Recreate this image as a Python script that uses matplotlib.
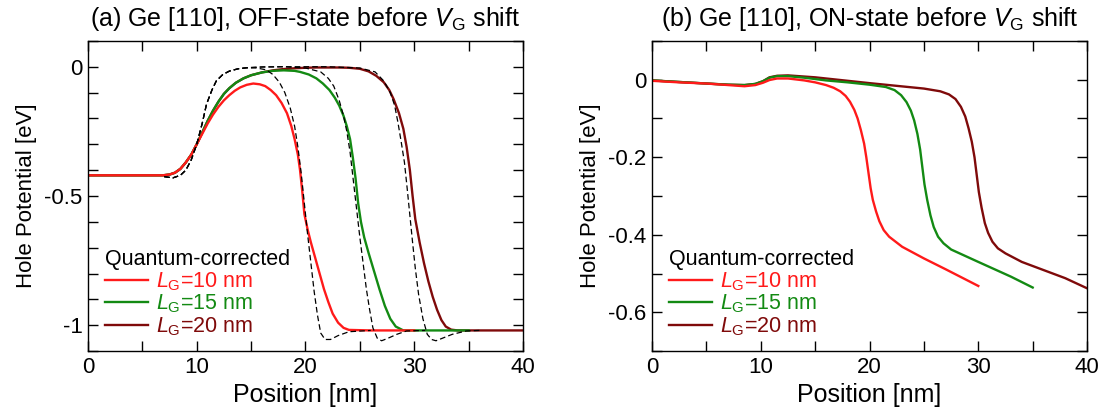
import numpy as np
import matplotlib
matplotlib.use('Agg')
import matplotlib.pyplot as plt
from matplotlib.ticker import MultipleLocator

plt.rcParams['font.family'] = ['Liberation Sans', 'DejaVu Sans']
plt.rcParams['mathtext.fontset'] = 'custom'
plt.rcParams['mathtext.rm'] = 'Liberation Sans'
plt.rcParams['mathtext.it'] = 'Liberation Sans:italic'

# (a) OFF-state, quantum-corrected
off10_x = [0, 6.9, 7.5, 8.0, 8.5, 9.0, 9.5, 10, 10.5, 11, 11.5, 12, 12.5, 13, 13.5, 14, 14.6, 15.2, 15.8, 16.3, 16.8, 17.3, 17.8, 18.3, 18.7, 19.0, 19.3, 19.5, 19.7, 19.9, 20.2, 20.5, 20.9, 21.3, 21.7, 22.1, 22.5, 23.0, 23.5, 24.0, 26, 30]
off10_y = [-0.42, -0.42, -0.417, -0.41, -0.395, -0.37, -0.34, -0.30, -0.26, -0.22, -0.185, -0.155, -0.13, -0.11, -0.093, -0.08, -0.07, -0.065, -0.068, -0.075, -0.09, -0.11, -0.14, -0.18, -0.23, -0.28, -0.34, -0.40, -0.48, -0.57, -0.63, -0.68, -0.74, -0.80, -0.86, -0.91, -0.955, -0.99, -1.01, -1.018, -1.02, -1.02]
off15_x = [0, 6.9, 7.5, 8.0, 8.5, 9.0, 9.5, 10, 10.5, 11, 11.5, 12, 12.5, 13, 13.6, 14.3, 15, 16, 17, 18, 19, 19.5, 20.3, 21.0, 21.6, 22.2, 22.7, 23.1, 23.5, 23.8, 24.1, 24.35, 24.6, 24.85, 25.1, 25.4, 25.8, 26.3, 26.8, 27.3, 27.8, 28.3, 29, 35]
off15_y = [-0.42, -0.42, -0.417, -0.41, -0.395, -0.37, -0.34, -0.30, -0.255, -0.21, -0.17, -0.135, -0.105, -0.083, -0.062, -0.045, -0.033, -0.022, -0.016, -0.014, -0.016, -0.02, -0.03, -0.045, -0.065, -0.09, -0.12, -0.15, -0.19, -0.23, -0.28, -0.35, -0.43, -0.53, -0.60, -0.66, -0.72, -0.79, -0.86, -0.925, -0.975, -1.005, -1.02, -1.02]
off20_x = [0, 6.9, 7.5, 8.0, 8.5, 9.0, 9.5, 10, 10.5, 11, 11.5, 12, 12.5, 13, 13.6, 14.3, 15, 16, 17, 18, 19, 20, 21, 22, 23, 24, 25, 25.8, 26.5, 27.2, 27.7, 28.1, 28.6, 29.0, 29.3, 29.6, 29.85, 30.1, 30.5, 30.9, 31.3, 31.7, 32.1, 32.5, 32.9, 33.4, 34, 40]
off20_y = [-0.42, -0.42, -0.417, -0.41, -0.395, -0.37, -0.34, -0.30, -0.255, -0.21, -0.17, -0.135, -0.105, -0.083, -0.062, -0.045, -0.033, -0.022, -0.014, -0.009, -0.006, -0.004, -0.003, -0.003, -0.003, -0.004, -0.008, -0.018, -0.035, -0.06, -0.09, -0.125, -0.18, -0.24, -0.31, -0.40, -0.50, -0.59, -0.68, -0.76, -0.83, -0.89, -0.94, -0.98, -1.005, -1.017, -1.02, -1.02]

# (a) OFF-state, classical (dashed)
cl10_x = [7, 7.8, 8.5, 9, 9.5, 10, 10.5, 10.9, 11.4, 11.8, 12.4, 13, 13.8, 14.6, 15.5, 16.4, 17.0, 17.6, 18.1, 18.6, 19.0, 19.3, 19.6, 19.9, 20.2, 20.5, 20.8, 21.1, 21.4, 21.8, 22.3, 23, 24.0, 26]
cl10_y = [-0.425, -0.43, -0.42, -0.40, -0.36, -0.30, -0.22, -0.145, -0.09, -0.055, -0.03, -0.017, -0.008, -0.004, -0.005, -0.012, -0.03, -0.06, -0.10, -0.16, -0.23, -0.31, -0.41, -0.53, -0.65, -0.76, -0.87, -0.96, -1.03, -1.055, -1.055, -1.04, -1.025, -1.02]
cl15_x = [7, 7.8, 8.5, 9, 9.5, 10, 10.5, 10.9, 11.4, 11.8, 12.4, 13, 13.8, 14.6, 16, 18, 20, 21.4, 22.1, 22.6, 23.1, 23.5, 23.8, 24.1, 24.4, 24.7, 25.0, 25.3, 25.6, 25.9, 26.2, 26.6, 27.0, 27.6, 28.4, 29.3, 31]
cl15_y = [-0.425, -0.43, -0.42, -0.40, -0.36, -0.30, -0.22, -0.145, -0.09, -0.055, -0.03, -0.017, -0.008, -0.004, -0.001, 0.0, -0.005, -0.02, -0.045, -0.075, -0.13, -0.19, -0.25, -0.33, -0.44, -0.55, -0.66, -0.76, -0.86, -0.94, -1.01, -1.05, -1.06, -1.05, -1.035, -1.022, -1.02]
cl20_x = [7, 7.8, 8.5, 9, 9.5, 10, 10.5, 10.9, 11.4, 11.8, 12.4, 13, 13.8, 14.6, 16, 18, 22, 25, 26.4, 27.2, 27.8, 28.2, 28.5, 28.8, 29.1, 29.35, 29.6, 29.85, 30.1, 30.4, 30.8, 31.2, 31.6, 32.0, 32.6, 33.5, 34.8, 36]
cl20_y = [-0.425, -0.43, -0.42, -0.40, -0.36, -0.30, -0.22, -0.145, -0.09, -0.055, -0.03, -0.017, -0.008, -0.004, -0.001, 0.0, 0.0, -0.005, -0.02, -0.055, -0.10, -0.15, -0.215, -0.29, -0.37, -0.47, -0.575, -0.68, -0.78, -0.88, -0.975, -1.035, -1.055, -1.06, -1.05, -1.035, -1.022, -1.02]

# (b) ON-state
on10_x = [0, 2.5, 5, 7, 8.5, 9.5, 10.2, 10.8, 11.5, 12.5, 14, 15, 16, 16.7, 17.3, 17.8, 18.2, 18.6, 18.9, 19.2, 19.5, 19.7, 19.9, 20.1, 20.3, 20.6, 20.9, 21.3, 21.8, 22.4, 23, 25, 27, 30]
on10_y = [-0.003, -0.007, -0.010, -0.014, -0.017, -0.014, -0.008, -0.001, 0.003, 0.003, -0.002, -0.007, -0.014, -0.021, -0.03, -0.042, -0.057, -0.078, -0.10, -0.13, -0.165, -0.20, -0.24, -0.28, -0.31, -0.34, -0.365, -0.388, -0.405, -0.418, -0.431, -0.461, -0.489, -0.532]
on15_x = [0, 2.5, 5, 7, 8.5, 9.5, 10.2, 10.8, 11.5, 12.5, 14, 16, 18, 20, 21.5, 22.3, 22.9, 23.4, 23.8, 24.1, 24.4, 24.65, 24.85, 25.05, 25.3, 25.6, 25.9, 26.3, 26.8, 27.5, 30, 33, 35]
on15_y = [-0.002, -0.006, -0.010, -0.013, -0.014, -0.011, -0.004, 0.005, 0.009, 0.009, 0.005, -0.002, -0.007, -0.013, -0.019, -0.027, -0.04, -0.058, -0.08, -0.105, -0.14, -0.18, -0.225, -0.27, -0.31, -0.35, -0.38, -0.405, -0.422, -0.438, -0.470, -0.508, -0.536]
on20_x = [0, 2.5, 5, 7, 8.5, 9.5, 10.2, 10.8, 11.5, 12.5, 15, 20, 25, 26.5, 27.3, 27.9, 28.4, 28.8, 29.1, 29.4, 29.65, 29.85, 30.05, 30.3, 30.6, 30.9, 31.3, 31.8, 32.5, 34, 36, 38, 40]
on20_y = [-0.002, -0.006, -0.010, -0.013, -0.014, -0.011, -0.004, 0.006, 0.010, 0.011, 0.006, -0.009, -0.023, -0.030, -0.038, -0.05, -0.07, -0.095, -0.125, -0.16, -0.2, -0.245, -0.29, -0.33, -0.37, -0.395, -0.418, -0.435, -0.448, -0.47, -0.491, -0.512, -0.538]

labels = ['$L_\\mathrm{G}$=10 nm', '$L_\\mathrm{G}$=15 nm', '$L_\\mathrm{G}$=20 nm']
colors = ['#ff1a1a', '#138a13', '#7f0a0a']

fig = plt.figure(figsize=(11.08, 4.17), dpi=100)
ax1 = fig.add_axes([0.0794, 0.158, 0.3926, 0.744])
ax2 = fig.add_axes([0.5885, 0.158, 0.3926, 0.744])

for xs, ys, c, lab in zip([off20_x, off15_x, off10_x], [off20_y, off15_y, off10_y], colors[::-1], labels[::-1]):
    ax1.plot(xs, ys, color=c, lw=1.7, label=lab)
for xs, ys in [(cl10_x, cl10_y), (cl15_x, cl15_y), (cl20_x, cl20_y)]:
    ax1.plot(xs, ys, color='black', lw=0.9, ls=(0, (4.5, 2.5)), zorder=3)
for xs, ys, c, lab in zip([on20_x, on15_x, on10_x], [on20_y, on15_y, on10_y], colors[::-1], labels[::-1]):
    ax2.plot(xs, ys, color=c, lw=1.7, label=lab)

ax1.set_ylim(-1.1, 0.1)
ax1.yaxis.set_minor_locator(MultipleLocator(0.1))
ax1.set_yticks([-1, -0.5, 0])
ax1.set_yticklabels(['-1', '-0.5', '0'])
ax2.set_ylim(-0.7, 0.1)
ax2.yaxis.set_minor_locator(MultipleLocator(0.1))
ax2.set_yticks([-0.6, -0.4, -0.2, 0])
ax2.set_yticklabels(['-0.6', '-0.4', '-0.2', '0'])

titles = ['(a) Ge [110], OFF-state before $V_\\mathrm{G}$ shift',
          '(b) Ge [110], ON-state before $V_\\mathrm{G}$ shift']
for ax, t in zip([ax1, ax2], titles):
    ax.set_xlim(0, 40)
    ax.xaxis.set_major_locator(MultipleLocator(10))
    ax.xaxis.set_minor_locator(MultipleLocator(5))
    ax.tick_params(which='both', direction='in', top=True, right=True, labelsize=16, width=1, pad=4)
    ax.tick_params(which='both', length=7)
    ax.set_xlabel('Position [nm]', fontsize=18, labelpad=4)
    ax.set_ylabel('Hole Potential [eV]', fontsize=16, labelpad=5)
    ax.set_title(t, fontsize=18, pad=11)
    for s in ax.spines.values():
        s.set_linewidth(1.0)
    h, l = ax.get_legend_handles_labels()
    ax.legend(h[::-1], l[::-1], title='Quantum-corrected', loc='lower left',
              bbox_to_anchor=(-0.005, -0.02), frameon=False, fontsize=15.5,
              title_fontsize=15.5, handlelength=2.0, handletextpad=0.35,
              labelspacing=0.0, alignment='left', labelcolor='linecolor')

fig.savefig('out.png', dpi=100)
